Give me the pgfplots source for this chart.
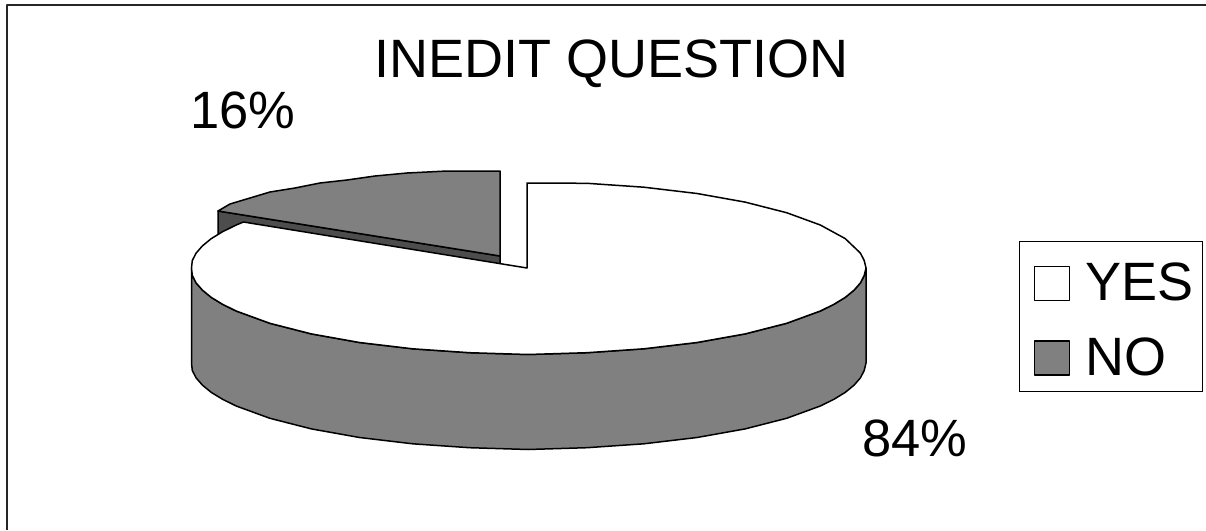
\documentclass[border=0pt]{standalone}
\usepackage{fontspec}
\setmainfont{Liberation Sans}
\usepackage{pgfplots}
\pgfplotsset{compat=1.18}
\definecolor{pieGray}{HTML}{808080}
\definecolor{pieDark}{HTML}{4D4D4D}
\newcommand{\bigf}{\fontsize{54}{60}\selectfont}
\newcommand{\midf}{\fontsize{52.5}{60}\selectfont}
\begin{document}
\begin{tikzpicture}
\path[use as bounding box] (0,0) rectangle (1206pt,530pt);
\begin{axis}[
  scale only axis, width=1206pt, height=530pt,
  xmin=0, xmax=1206, ymin=0, ymax=530, y dir=reverse,
  axis lines=none, clip=false,
  every axis plot/.append style={line width=1.5pt, line join=round},
  legend cell align=left,
  legend image code/.code={\path[draw=none,fill=none] (0pt,28pt) -- (8pt,28pt); \draw[#1,line width=1.5pt] (8pt,-18pt) rectangle (43pt,16pt);},
  legend style={at={(axis cs:1019,241)}, anchor=north west, draw=black, line width=1pt,
    font=\bigf, inner xsep=7pt, inner ysep=13pt, row sep=25pt,
    /tikz/every odd column/.append style={column sep=13pt}},
]
% frame
\addplot[forget plot, draw=black!85] coordinates {(7,530) (7,5) (1206,5)};
% NO slice, 16 %: side wall
\addplot[forget plot, fill=pieDark, draw=black] coordinates {(218,211) (500,256) (500,264) (218,236)} -- cycle;
% NO slice: top
\addplot[forget plot, fill=pieGray, draw=black] coordinates {(500,256) (500,171) (447,171) (407,173) (375,176) (347,180) (320,183) (295,188) (270,192) (250,198) (230,204) (218,211)} -- cycle;
% YES slice, 84 %: side wall
\addplot[forget plot, fill=pieGray, draw=black] coordinates {
 (866,268) (864.2,275.5) (860.4,282.9) (854,290.2) (845.2,297.4) (833.9,304.3) (820.3,311) (786.6,323.3) (745.1,333.9) (697,342.5) (643.8,348.8) (587,352.7) (528,354.5)
 (469.5,352.7) (412.7,348.8) (359.5,342.5) (311.4,333.9) (269.9,323.3) (236.2,311) (222.6,304.3) (211.3,297.4) (202.5,290.2) (196.1,282.9) (192.3,275.5) (191.5,268)
 (191.5,363) (192.3,370.5) (196.1,377.9) (202.5,385.2) (211.3,392.4) (222.6,399.3) (236.2,406) (269.9,418.3) (311.4,428.9) (359.5,437.5) (412.7,443.8) (469.5,447.7)
 (528,449.5) (587,447.7) (643.8,443.8) (697,437.5) (745.1,428.9) (786.6,418.3) (820.3,406) (833.9,399.3) (845.2,392.4) (854,385.2) (860.4,377.9) (864.2,370.5) (866,363)} -- cycle;
% YES slice: top
\addplot[forget plot, fill=white, draw=black] coordinates {
 (527,268) (527,183) (587,183.3) (643.8,187.2) (697,193.5) (745.1,202.1) (786.6,212.7) (820.3,225) (845.2,238.6) (860.4,253.1) (864.2,260.5) (866,268)
 (864.2,275.5) (860.4,282.9) (854,290.2) (845.2,297.4) (833.9,304.3) (820.3,311) (786.6,323.3) (745.1,333.9) (697,342.5) (643.8,348.8) (587,352.7) (528,354.5)
 (469.5,352.7) (412.7,348.8) (359.5,342.5) (311.4,333.9) (269.9,323.3) (236.2,311) (222.6,304.3) (211.3,297.4) (202.5,290.2) (196.1,282.9) (192.3,275.5) (191.5,268)
 (192.3,260.5) (196.1,253.1) (202.5,245.8) (211.3,238.6) (222.6,231.7) (236.2,225) (243.5,222)} -- cycle;
\addlegendimage{draw=black, fill=white}
\addlegendentry{YES}
\addlegendimage{draw=black, fill=pieGray}
\addlegendentry{NO}
\node[anchor=base, font=\bigf, inner sep=0pt] at (axis cs:611.5,77) {INEDIT QUESTION};
\node[anchor=base, font=\midf, inner sep=0pt] at (axis cs:243,128) {16\%};
\node[anchor=base, font=\midf, inner sep=0pt] at (axis cs:915,456) {84\%};
\end{axis}
\end{tikzpicture}
\end{document}
